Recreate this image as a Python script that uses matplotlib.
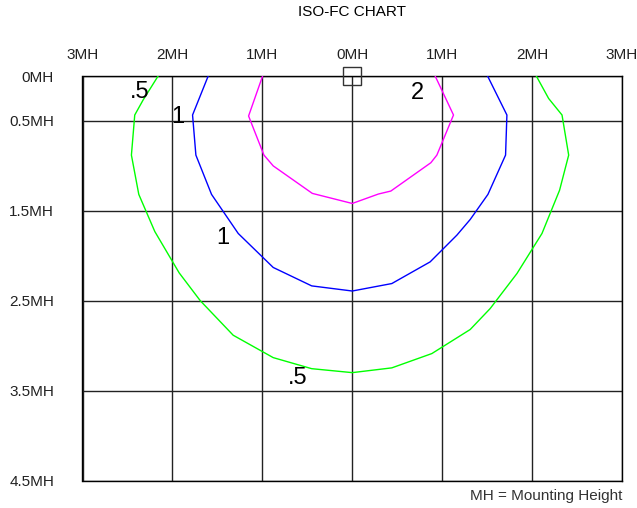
import matplotlib
matplotlib.use("Agg")
import matplotlib.pyplot as plt
from matplotlib.patches import Rectangle

plt.rcParams['font.family'] = ['Liberation Sans', 'DejaVu Sans']

# Tick positions / labels (in mounting heights)
x_ticks = [-3, -2, -1, 0, 1, 2, 3]
x_labels = ["3MH", "2MH", "1MH", "0MH", "1MH", "2MH", "3MH"]
y_ticks = [0, 0.5, 1.5, 2.5, 3.5, 4.5]
y_labels = ["0MH", "0.5MH", "1.5MH", "2.5MH", "3.5MH", "4.5MH"]

# Iso-footcandle contours (x, y in MH)
fc05_x = [-2.159, -2.326, -2.419, -2.456, -2.374, -2.196, -1.925, -1.69, -1.324,
          -0.879, -0.451, 0.0, 0.44, 0.885, 1.312, 1.534, 1.832, 2.11, 2.306,
          2.407, 2.333, 2.184, 2.047]
fc05_y = [0.0, 0.267, 0.434, 0.88, 1.317, 1.73, 2.19, 2.5, 2.884,
          3.133, 3.256, 3.30, 3.247, 3.088, 2.82, 2.587, 2.197, 1.752, 1.27,
          0.88, 0.434, 0.25, 0.0]

fc1_x = [-1.602, -1.776, -1.739, -1.565, -1.268, -0.879, -0.451, 0.0, 0.44,
         0.866, 1.164, 1.312, 1.509, 1.705, 1.72, 1.505]
fc1_y = [0.0, 0.434, 0.88, 1.317, 1.752, 2.13, 2.335, 2.392, 2.309,
         2.068, 1.77, 1.596, 1.317, 0.88, 0.434, 0.0]

fc2_x = [-0.997, -1.153, -0.982, -0.879, -0.444, 0.0, 0.291, 0.429, 0.874,
         0.941, 1.126, 0.922]
fc2_y = [0.0, 0.445, 0.88, 1.0, 1.306, 1.418, 1.313, 1.28, 0.965,
         0.88, 0.434, 0.0]

# Contour labels
lab_text = [".5", "1", "1", "2", ".5"]
lab_x = [-2.363, -1.937, -1.435, 0.725, -0.607]
lab_y = [0.175, 0.453, 1.807, 0.193, 3.36]

fig = plt.figure(figsize=(6.37, 5.08), dpi=100)
ax = fig.add_axes([82.5 / 637, 1 - 480.5 / 508, (622 - 82.5) / 637, (480.5 - 76) / 508])

ax.plot(fc05_x, fc05_y, color='#00ff00', lw=1.0, zorder=3)
ax.plot(fc1_x, fc1_y, color='#0000ff', lw=1.0, zorder=3)
ax.plot(fc2_x, fc2_y, color='#ff00ff', lw=1.0, zorder=3)

for t, x, y in zip(lab_text, lab_x, lab_y):
    ax.text(x, y, t, fontsize=17, ha='center', va='center', color='black', zorder=4)

ax.set_xlim(-3, 3)
ax.set_ylim(4.5, 0)
ax.set_xticks(x_ticks)
ax.set_xticklabels(x_labels)
ax.set_yticks(y_ticks)
ax.set_yticklabels(y_labels)
ax.xaxis.tick_top()
ax.tick_params(axis='x', length=0, pad=10, labelsize=11, colors='#222222')
ax.tick_params(axis='y', length=0, pad=20.5, labelsize=11, colors='#222222')
ax.grid(True, color='#222222', lw=1.0, zorder=1)
ax.set_axisbelow(True)
for s in ax.spines.values():
    s.set_color('black')
    s.set_linewidth(1.0)

ax.add_patch(Rectangle((-0.1, -0.1), 0.2, 0.2, fill=False, edgecolor='#333333',
                       lw=1.0, clip_on=False, zorder=5))

fig.text(352 / 637, 1 - 11.7 / 508, "ISO-FC CHART", ha='center', va='center',
         fontsize=11, color='black')
fig.text(622.5 / 637, 1 - 495.7 / 508, "MH = Mounting Height", ha='right', va='center',
         fontsize=11, color='#333333')

fig.savefig("out.png", dpi=100)
